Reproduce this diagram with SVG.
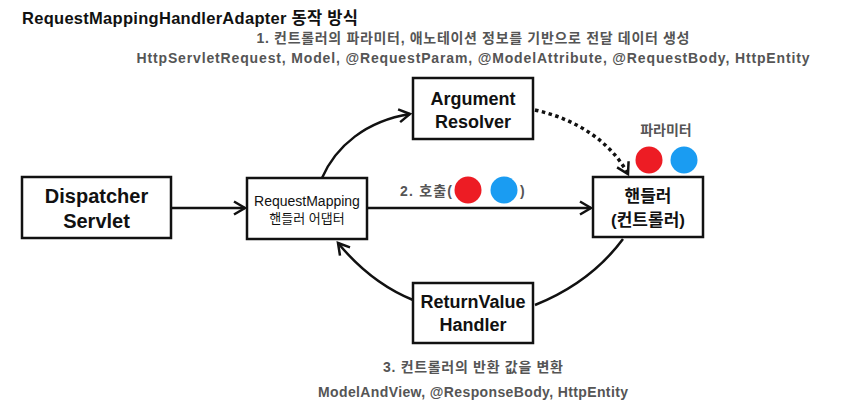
<svg xmlns="http://www.w3.org/2000/svg" width="856" height="408" viewBox="0 0 856 408">
<defs>
<style>
.t{font-family:"Liberation Sans","Noto Sans CJK KR",sans-serif;}
.box{fill:#fff;stroke:#111;stroke-width:2.5;}
.node{font-size:18px;font-weight:700;fill:#111;text-anchor:middle;}
.gray{font-size:14px;font-weight:700;fill:#555;text-anchor:middle;}
.con{fill:none;stroke:#111;stroke-width:2.5;}
.dot{fill:none;stroke:#111;stroke-width:3.5;stroke-dasharray:3.5 3.5;}
.red{fill:#ED1C24;}
.blue{fill:#1A9CF2;}
</style>
<marker id="ah" markerUnits="userSpaceOnUse" markerWidth="16" markerHeight="16" viewBox="0 0 16 16" refX="13" refY="8" orient="auto">
<path d="M2,1.5 L13,8 L2,14.5" fill="none" stroke="#111" stroke-width="2.5" stroke-linejoin="miter"/>
</marker>
</defs>
<rect width="856" height="408" fill="#fff"/>
<text class="t" x="22" y="24" font-size="16.5" font-weight="700" fill="#111" textLength="336" lengthAdjust="spacing">RequestMappingHandlerAdapter 동작 방식</text>
<text class="t gray" x="473" y="43" textLength="433" lengthAdjust="spacing">1. 컨트롤러의 파라미터, 애노테이션 정보를 기반으로 전달 데이터 생성</text>
<text class="t gray" x="473" y="63" textLength="673" lengthAdjust="spacing">HttpServletRequest, Model, @RequestParam, @ModelAttribute, @RequestBody, HttpEntity</text>

<g id="connectors">
<path class="con" d="M172,208 L245,208" marker-end="url(#ah)"/>
<path class="con" d="M368,208 L591,208" marker-end="url(#ah)"/>
<path class="con" d="M322,178 C336,146 366,121 410,114" marker-end="url(#ah)"/>
<path class="dot" d="M535,110 C576,119 611,142 628,174" marker-end="url(#ah)"/>
<path class="con" d="M623,239 C600,270 570,291 535,305"/>
<path class="con" d="M413,300 C381,287 357,266 338,243" marker-end="url(#ah)"/>
</g>

<g id="dispatcher">
<rect class="box" x="22" y="177" width="149" height="61"/>
<text class="t node" x="96.5" y="203" style="font-size:20px">Dispatcher</text>
<text class="t node" x="96.5" y="228" style="font-size:20px">Servlet</text>
</g>
<g id="adapter">
<rect class="box" x="247" y="178" width="120" height="61"/>
<text class="t" x="307" y="206" font-size="14" fill="#111" text-anchor="middle">RequestMapping</text>
<text class="t" x="307" y="223" font-size="13" fill="#111" text-anchor="middle">핸들러 어댑터</text>
</g>
<g id="argument-resolver">
<rect class="box" x="413" y="78" width="120" height="61"/>
<text class="t node" x="473" y="105">Argument</text>
<text class="t node" x="473" y="128">Resolver</text>
</g>
<g id="handler">
<rect class="box" x="593" y="177" width="110" height="60"/>
<text class="t node" x="648" y="202" style="font-size:17px">핸들러</text>
<text class="t node" x="648" y="226" style="font-size:17px">(컨트롤러)</text>
</g>
<g id="returnvalue-handler">
<rect class="box" x="413" y="283" width="120" height="60"/>
<text class="t node" x="473" y="308">ReturnValue</text>
<text class="t node" x="473" y="331">Handler</text>
</g>

<g id="call-label">
<text class="t gray" x="400" y="196" style="text-anchor:start" textLength="52" lengthAdjust="spacing">2. 호출(</text>
<circle class="red" cx="468" cy="190" r="13.5"/>
<circle class="blue" cx="504" cy="190" r="13.5"/>
<text class="t gray" x="520" y="196" style="text-anchor:start">)</text>
</g>
<g id="params">
<text class="t gray" x="666" y="135">파라미터</text>
<circle class="red" cx="649" cy="160" r="13.5"/>
<circle class="blue" cx="684" cy="160" r="13.5"/>
</g>

<text class="t gray" x="473" y="372" textLength="180" lengthAdjust="spacing">3. 컨트롤러의 반환 값을 변환</text>
<text class="t gray" x="473" y="397" textLength="310" lengthAdjust="spacing">ModelAndView, @ResponseBody, HttpEntity</text>
</svg>
